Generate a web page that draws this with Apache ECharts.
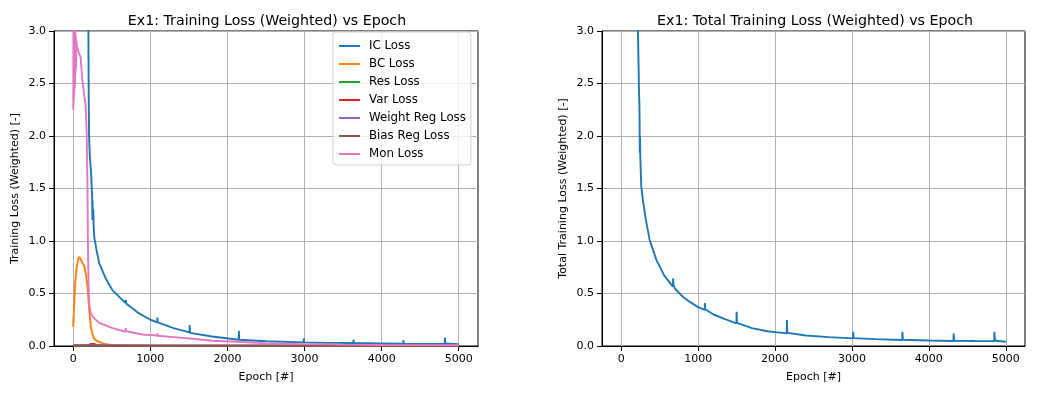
<!DOCTYPE html>
<html>
<head>
<meta charset="utf-8">
<script src="https://cdn.jsdelivr.net/npm/echarts@6/dist/echarts.min.js"></script>
<style>
html, body { margin: 0; padding: 0; background: #fff; }
#chart { width: 1043px; height: 396px; }
</style>
</head>
<body>
<div id="chart"></div>
<script>
// tick values
var xTicks = [0, 1000, 2000, 3000, 4000, 5000];
var seriesNames = ['IC Loss', 'BC Loss', 'Res Loss', 'Var Loss', 'Weight Reg Loss', 'Bias Reg Loss', 'Mon Loss'];
var colors = ['#1f77b4', '#ff7f0e', '#2ca02c', '#d62728', '#9467bd', '#8c564b', '#e377c2'];

// IC loss (goes off the top before epoch ~195)
var icEpoch = [0, 120, 185, 195, 200, 205, 215, 229, 240, 245, 248, 250, 255, 260, 265, 272, 300, 336, 423, 509, 600, 679, 681, 686, 854, 1000, 1089, 1091, 1095, 1300, 1508, 1510, 1515, 1800, 2146, 2148, 2153, 2500, 2988, 2990, 2996, 3300, 3633, 3635, 3640, 4000, 4280, 4282, 4288, 4600, 4819, 4821, 4828, 5000];
var icLoss = [12, 7, 4, 3.2, 2.4, 2.0, 1.8, 1.68, 1.5, 1.42, 1.2, 1.38, 1.22, 1.3, 1.13, 1.04, 0.92, 0.79, 0.64, 0.53, 0.465, 0.41, 0.44, 0.405, 0.31, 0.25, 0.225, 0.27, 0.225, 0.17, 0.13, 0.2, 0.125, 0.09, 0.06, 0.145, 0.06, 0.045, 0.035, 0.072, 0.035, 0.03, 0.028, 0.06, 0.028, 0.025, 0.022, 0.055, 0.022, 0.02, 0.02, 0.08, 0.025, 0.018];

// BC loss
var bcEpoch = [0, 2, 4, 6, 15, 25, 35, 50, 65, 78, 100, 120, 142, 165, 185, 207, 229, 250, 272, 300, 336, 400, 500, 1000, 5000];
var bcLoss = [0.18, 0.28, 0.22, 0.3, 0.45, 0.6, 0.69, 0.78, 0.83, 0.85, 0.82, 0.79, 0.76, 0.68, 0.56, 0.34, 0.18, 0.11, 0.07, 0.05, 0.04, 0.02, 0.01, 0.005, 0.002];

// Res loss
var resEpoch = [0, 1000, 5000];
var resLoss = [0.002, 0.001, 0.001];

// Var loss
var varEpoch = [0, 200, 230, 250, 270, 300, 400, 5000];
var varLoss = [0.005, 0.008, 0.02, 0.028, 0.02, 0.01, 0.004, 0.001];

// Weight reg loss
var wregEpoch = [0, 1000, 3000, 5000];
var wregLoss = [0.007, 0.006, 0.005, 0.005];

// Bias reg loss
var bregEpoch = [0, 250, 500, 5000];
var bregLoss = [0.003, 0.006, 0.003, 0.002];

// Mon loss
var monEpoch = [0, 2, 4, 6, 8, 10, 12, 15, 18, 21, 24, 27, 30, 33, 36, 40, 50, 73, 95, 116, 140, 160, 175, 183, 190, 197, 207, 225, 250, 336, 509, 679, 681, 686, 900, 1089, 1091, 1095, 1300, 1508, 1510, 1515, 1800, 2146, 2148, 2153, 2500, 3000, 3500, 4000, 5000];
var monLoss = [2.25, 3.05, 2.3, 3.1, 2.35, 3.1, 2.4, 3.05, 2.45, 3.0, 2.5, 3.0, 2.6, 2.95, 2.65, 2.9, 2.85, 2.79, 2.75, 2.55, 2.4, 2.3, 2.0, 1.6, 1.0, 0.6, 0.41, 0.32, 0.28, 0.22, 0.17, 0.136, 0.17, 0.14, 0.11, 0.1, 0.12, 0.098, 0.085, 0.072, 0.085, 0.07, 0.05, 0.04, 0.05, 0.038, 0.025, 0.018, 0.013, 0.01, 0.008];

// total loss (right plot)
var totalEpoch = [0, 150, 210, 220, 230, 236, 239, 241, 244, 248, 261, 282, 320, 370, 457, 560, 672, 675, 680, 700, 800, 892, 1000, 1086, 1088, 1092, 1200, 1350, 1498, 1500, 1505, 1700, 1900, 2152, 2154, 2160, 2400, 2700, 3014, 3016, 3022, 3300, 3654, 3656, 3662, 4000, 4320, 4322, 4330, 4600, 4850, 4852, 4858, 4870, 5000];
var totalLoss = [15, 6, 3.3, 2.9, 2.47, 2.3, 2.15, 1.84, 2.0, 1.8, 1.52, 1.39, 1.2, 1.01, 0.82, 0.67, 0.565, 0.645, 0.58, 0.545, 0.47, 0.42, 0.37, 0.343, 0.41, 0.35, 0.3, 0.255, 0.216, 0.327, 0.22, 0.17, 0.14, 0.12, 0.248, 0.125, 0.1, 0.085, 0.073, 0.136, 0.075, 0.065, 0.057, 0.136, 0.06, 0.052, 0.048, 0.12, 0.05, 0.047, 0.046, 0.136, 0.07, 0.05, 0.04];

function zip(xs, ys) {
	var out = [];
	for (var i = 0; i < xs.length; i++) out.push([xs[i], ys[i]]);
	return out;
}

var font = 'DejaVu Sans';
var leftData = [
	zip(icEpoch, icLoss), zip(bcEpoch, bcLoss), zip(resEpoch, resLoss), zip(varEpoch, varLoss),
	zip(wregEpoch, wregLoss), zip(bregEpoch, bregLoss), zip(monEpoch, monLoss)
];

function xAxisOf(gi) {
	return {
		type: 'value', gridIndex: gi, min: -250, max: 5250,
		name: 'Epoch [#]', nameLocation: 'middle', nameGap: 26,
		nameTextStyle: { fontFamily: font, fontSize: 11, color: '#000' },
		axisLine: { show: true, onZero: false, lineStyle: { color: '#000', width: 1 } },
		axisTick: { show: true, inside: false, length: 5, customValues: xTicks, lineStyle: { color: '#000' } },
		axisLabel: { customValues: xTicks, fontFamily: font, fontSize: 11, color: '#000', margin: 8,
			formatter: function (v) { return String(v); } },
		splitLine: { show: true, lineStyle: { color: '#b0b0b0', width: 1 } }
	};
}
function yAxisOf(gi, name) {
	return {
		type: 'value', gridIndex: gi, min: 0, max: 3, interval: 0.5,
		name: name, nameLocation: 'middle', nameGap: 33,
		nameTextStyle: { fontFamily: font, fontSize: 11, color: '#000' },
		axisLine: { show: true, onZero: false, lineStyle: { color: '#000', width: 1 } },
		axisTick: { show: true, inside: false, length: 5, lineStyle: { color: '#000' } },
		axisLabel: { fontFamily: font, fontSize: 11, color: '#000', margin: 8,
			formatter: function (v) { return v.toFixed(1); } },
		splitLine: { show: true, lineStyle: { color: '#b0b0b0', width: 1 } }
	};
}

var series = [];
for (var i = 0; i < seriesNames.length; i++) {
	series.push({
		name: seriesNames[i], type: 'line', xAxisIndex: 0, yAxisIndex: 0,
		data: leftData[i], symbol: 'none', showSymbol: false, animation: false,
		lineStyle: { color: colors[i], width: 1.9 }, itemStyle: { color: colors[i] }
	});
}
series.push({
	name: 'Total Loss', type: 'line', xAxisIndex: 1, yAxisIndex: 1,
	data: zip(totalEpoch, totalLoss), symbol: 'none', showSymbol: false, animation: false,
	lineStyle: { color: '#1f77b4', width: 1.9 }, itemStyle: { color: '#1f77b4' }
});

var myChart = echarts.init(document.getElementById('chart'), null, { renderer: 'canvas' });
var option = {
	animation: false,
	backgroundColor: '#fff',
	title: [{
		text: 'Ex1: Training Loss (Weighted) vs Epoch', left: 262, top: 9, textAlign: 'center',
		textStyle: { fontFamily: font, fontSize: 14.2, fontWeight: 'normal', color: '#000' }
	}, {
		text: 'Ex1: Total Training Loss (Weighted) vs Epoch', left: 810, top: 9, textAlign: 'center',
		textStyle: { fontFamily: font, fontSize: 14.2, fontWeight: 'normal', color: '#000' }
	}],
	legend: {
		data: seriesNames, orient: 'vertical', left: 333, top: 32,
		icon: 'rect', itemWidth: 21, itemHeight: 2, itemGap: 4,
		padding: [7, 5, 4, 6],
		borderColor: '#d0d0d0', borderWidth: 1, borderRadius: 3,
		backgroundColor: 'rgba(255,255,255,0.8)',
		textStyle: { fontFamily: font, fontSize: 11.8, color: '#000', lineHeight: 14, padding: [0, 0, 0, 4] }
	},
	grid: [
		{ left: 54, top: 31, width: 424, height: 315, show: true, borderColor: '#000', borderWidth: 1 },
		{ left: 602, top: 31, width: 423, height: 315, show: true, borderColor: '#000', borderWidth: 1 }
	],
	xAxis: [xAxisOf(0), xAxisOf(1)],
	yAxis: [yAxisOf(0, 'Training Loss (Weighted) [-]'), yAxisOf(1, 'Total Training Loss (Weighted) [-]')],
	series: series
};
myChart.setOption(option);
</script>
</body>
</html>
